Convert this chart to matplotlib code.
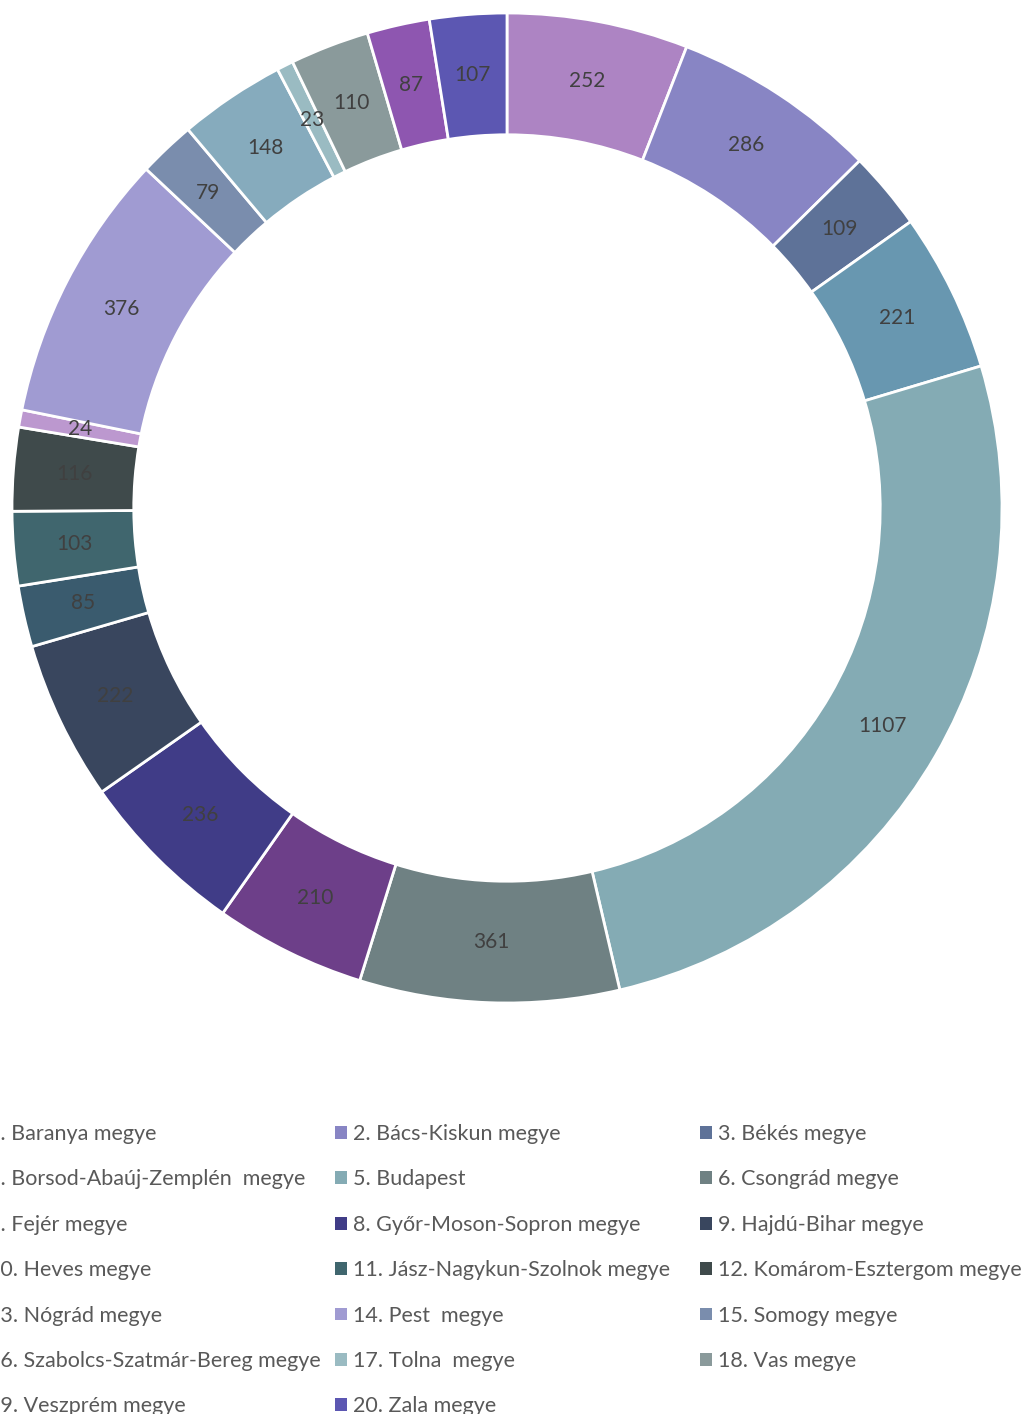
import matplotlib.pyplot as plt
from matplotlib.patches import Patch

counties = ['1. Baranya megye', '2. Bács-Kiskun megye', '3. Békés megye',
            '4. Borsod-Abaúj-Zemplén  megye', '5. Budapest', '6. Csongrád megye',
            '7. Fejér megye', '8. Győr-Moson-Sopron megye', '9. Hajdú-Bihar megye',
            '10. Heves megye', '11. Jász-Nagykun-Szolnok megye', '12. Komárom-Esztergom megye',
            '13. Nógrád megye', '14. Pest  megye', '15. Somogy megye',
            '16. Szabolcs-Szatmár-Bereg megye', '17. Tolna  megye', '18. Vas megye',
            '19. Veszprém megye', '20. Zala megye']
values = [252, 286, 109, 221, 1107, 361, 210, 236, 222, 85,
          103, 116, 24, 376, 79, 148, 23, 110, 87, 107]
colors = ['#AD84C3', '#8885C4', '#5E7298', '#6897B0', '#84ABB4', '#6F8183',
          '#6D3F89', '#403C87', '#39465E', '#3A5B6E', '#40666E', '#3F4A4B',
          '#BC98CF', '#A09BD2', '#7A8DAD', '#86ABBD', '#9ABBC2', '#8A9A9B',
          '#8E56B0', '#5C57B2']

plt.rcParams['font.family'] = ['Lato', 'DejaVu Sans']

W, H = 1027, 1414
fig = plt.figure(figsize=(W / 100, H / 100), dpi=100)
cx, cy, r = 507, 508, 495
ax = fig.add_axes([(cx - r) / W, (H - cy - r) / H, 2 * r / W, 2 * r / H])

total = sum(values)
wedges, _, autotexts = ax.pie(values, colors=colors, startangle=90, counterclock=False,
                              radius=1, autopct=lambda p: '%d' % round(p * total / 100),
                              pctdistance=0.877,
                              wedgeprops=dict(width=0.246, edgecolor='white', linewidth=2),
                              textprops=dict(color='#404040', fontsize=15))
ax.set_xlim(-1, 1)
ax.set_ylim(-1, 1)
ax.axis('off')

# legend, row-major, 3 columns placed at fixed positions
handles = [Patch(facecolor=c, edgecolor='none') for c in colors]
col_x = [-30, 335, 700]
for k in range(3):
    idx = list(range(k, len(values), 3))
    leg = fig.legend([handles[i] for i in idx], [counties[i] for i in idx],
                     loc='upper left', bbox_to_anchor=(col_x[k] / W, 1 - 1124 / H),
                     frameon=False, fontsize=15.5, labelcolor='#595959',
                     handlelength=0.55, handleheight=0.55, handletextpad=0.3,
                     labelspacing=1.18, borderpad=0, borderaxespad=0)

fig.savefig('out.png', dpi=100)
